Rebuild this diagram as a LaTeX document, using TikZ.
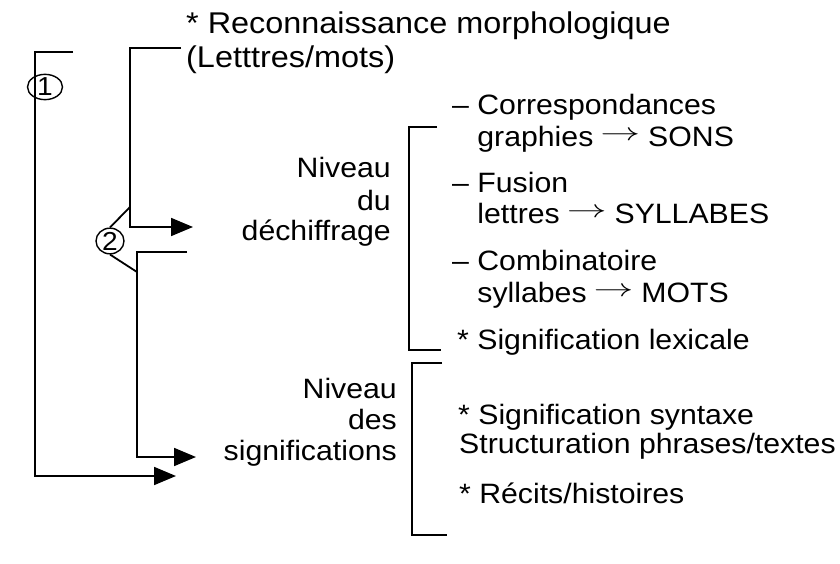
\documentclass[tikz,border=0pt]{standalone}
\usepackage{fontspec}
\setmainfont{Liberation Sans}[FakeStretch=1.08]
\usetikzlibrary{arrows.meta,shapes.geometric}

\tikzset{
  lbl/.style={font=\fontsize{28}{32}\selectfont,inner sep=0pt},
  toplbl/.style={lbl,font=\fontsize{30}{34}\selectfont},
  brk/.style={line width=1.8pt},
  arr/.style={brk,-{Triangle[length=22pt,width=18pt]}},
  num/.style={draw,ellipse,line width=1.4pt,inner sep=0pt,font=\fontsize{26}{26}\selectfont},
}
\newcommand{\toarr}{\hspace{7pt}\raisebox{6pt}{\scalebox{1.6}[1]{$\rightarrow$}}\hspace{8pt}}

\begin{document}
\begin{tikzpicture}[x=1pt,y=-1pt]
  \useasboundingbox (0,0) rectangle (840,564);

  % top item
  \node[toplbl,anchor=base west] (reco) at (186,34) {* Reconnaissance morphologique};
  \node[toplbl,anchor=base west] (recob) at (186,68) {(Letttres/mots)};

  % the two levels
  \node[lbl,anchor=base east] (niv1) at (391,178) {Niveau};
  \node[lbl,anchor=base east] (du) at (391,210) {du};
  \node[lbl,anchor=base east] (dech) at (391,240) {déchiffrage};
  \node[lbl,anchor=base east] (niv2) at (397,398) {Niveau};
  \node[lbl,anchor=base east] (des) at (397,429) {des};
  \node[lbl,anchor=base east] (sig) at (397,460) {significations};

  % items of the decoding level
  \node[lbl,anchor=base west] (corr) at (452,115) {– Correspondances};
  \node[lbl,anchor=base west] (graph) at (452,147) {\hphantom{– }graphies\toarr SONS};
  \node[lbl,anchor=base west] (fus) at (452,193) {– Fusion};
  \node[lbl,anchor=base west] (lett) at (452,223) {\hphantom{– }lettres\toarr SYLLABES};
  \node[lbl,anchor=base west] (comb) at (452,270) {– Combinatoire};
  \node[lbl,anchor=base west] (syll) at (452,302) {\hphantom{– }syllabes\toarr MOTS};
  \node[lbl,anchor=base west] (lex) at (457,349) {* Signification lexicale};

  % items of the meaning level
  \node[lbl,anchor=base west] (synt) at (458,424) {* Signification syntaxe};
  \node[lbl,anchor=base west] (struc) at (459,453) {Structuration phrases/textes};
  \node[lbl,anchor=base west] (rec) at (459,503) {* Récits/histoires};

  % numbers
  \node[num,minimum width=35pt,minimum height=22pt] (c1) at (45,87) {1};
  \node[num,minimum width=28pt,minimum height=22pt] (c2) at (110,241) {2};

  % bracket 1
  \coordinate (o1a) at (73,52);
  \coordinate (o1b) at (35,52);
  \coordinate (o1c) at (35,476);
  \coordinate (o1d) at (176,476);
  \draw[arr] (o1a) -- (o1b) -- (o1c) -- (o1d);

  % bracket 2
  \coordinate (u2a) at (181,48);
  \coordinate (u2b) at (130,48);
  \coordinate (u2c) at (130,227);
  \coordinate (u2d) at (193,227);
  \coordinate (u2e) at (130,207);
  \draw[arr] (u2a) -- (u2b) -- (u2c) -- (u2d);
  \coordinate (l2a) at (187,252);
  \coordinate (l2b) at (137,252);
  \coordinate (l2c) at (137,457);
  \coordinate (l2d) at (196,457);
  \coordinate (l2e) at (137,272);
  \draw[arr] (l2a) -- (l2b) -- (l2c) -- (l2d);
  \draw[brk] (c2.north) -- (u2e);
  \draw[brk] (c2.south) -- (l2e);

  % right brackets
  \coordinate (r1a) at (437,127);
  \coordinate (r1b) at (409,127);
  \coordinate (r1c) at (409,350);
  \coordinate (r1d) at (441,350);
  \draw[brk] (r1a) -- (r1b) -- (r1c) -- (r1d);
  \coordinate (r2a) at (442,363);
  \coordinate (r2b) at (412,363);
  \coordinate (r2c) at (412,535);
  \coordinate (r2d) at (447,535);
  \draw[brk] (r2a) -- (r2b) -- (r2c) -- (r2d);
\end{tikzpicture}
\end{document}
